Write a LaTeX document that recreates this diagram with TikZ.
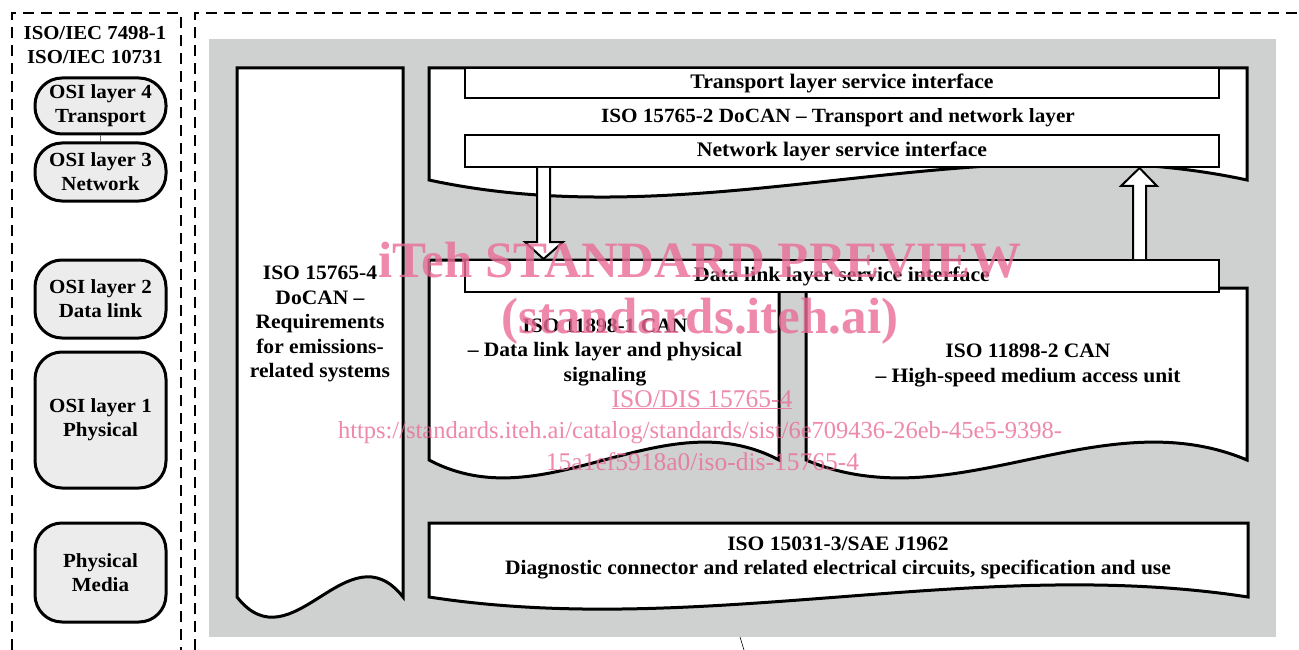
\documentclass[tikz,border=0pt]{standalone}
\usepackage{fontspec}
\setmainfont[FakeStretch=1.05]{Liberation Serif}
\newfontfamily\wmfont{Liberation Serif}
\usetikzlibrary{calc}
\definecolor{bggray}{RGB}{207,209,208}
\definecolor{boxgray}{RGB}{236,236,236}
\definecolor{wmpink}{RGB}{234,108,150}
\tikzset{
  dashframe/.style={line width=2.4pt, dash pattern=on 11pt off 7pt},
  docbox/.style={draw=black, fill=white, line width=3pt, line join=miter},
  iface/.style={draw=black, fill=white, line width=2pt, inner sep=0pt, minimum width=754pt,
    font=\bfseries\fontsize{20.7}{24}\selectfont},
  osibox/.style={draw=black, fill=boxgray, line width=3pt, rounded corners=27pt,
    minimum width=131pt, inner sep=0pt, align=center, font=\bfseries\fontsize{20}{24}\selectfont},
  lbl/.style={font=\bfseries\fontsize{20.5}{24.5}\selectfont, align=center, inner sep=0pt},
  blockarrow/.style={draw=black, fill=white, line width=2pt, line join=miter},
  wmbig/.style={text=wmpink, text opacity=0.8, inner sep=0pt, font=\wmfont\bfseries\fontsize{51}{56}\selectfont},
  wmsmall/.style={text=wmpink, text opacity=0.8, inner sep=0pt, font=\wmfont\fontsize{25.5}{30}\selectfont},
}
\begin{document}
\begin{tikzpicture}[x=1pt,y=-1pt]
\useasboundingbox (0,0) rectangle (1299,650);
% dashed frames
\draw[dashframe] (12,650) -- (12,13) -- (181,13) -- (181,650);
\draw[dashframe] (195,650) -- (195,13) -- (1299,13);
% grey panel
\fill[bggray] (209,39) rectangle (1276,637);
\draw[line width=0.6pt] (740,637) -- (744,650);

% left column
\node[lbl, font=\bfseries\fontsize{19.8}{23.5}\selectfont] (hdr) at (95,45) {ISO/IEC 7498-1\\ISO/IEC 10731};
\node[osibox, minimum height=56pt] (osi4) at (100.5,106) {OSI layer 4\\Transport};
\node[osibox, minimum height=58pt] (osi3) at (100.5,172) {OSI layer 3\\Network};
\draw[line width=0.8pt, black!60] (osi4.south) -- (osi3.north);
\node[osibox, minimum height=78pt] (osi2) at (100.5,299) {OSI layer 2\\Data link};
\node[osibox, minimum height=136pt] (osi1) at (100.5,420) {OSI layer 1\\Physical};
\node[osibox, minimum height=99pt] (media) at (100.5,572.5) {Physical\\Media};

% ISO 15765-4 tall document
\draw[docbox] (237,68) -- (403,68) -- (403,597) .. controls (348,527) and (292,667) .. (237,597) -- cycle;
\node[lbl] (req) at (320,324) {ISO 15765-4\\DoCAN --\\Requirements\\for emissions-\\related systems};

% ISO 15765-2 top document
\draw[docbox] (429,68) -- (1247,68) -- (1247,180) .. controls (974,121) and (702,239) .. (429,180) -- cycle;
\node[iface, minimum height=30pt] (tli) at (842,83) {Transport layer service interface};
\node[lbl, font=\bfseries\fontsize{20.2}{24.5}\selectfont] (tnl) at (838,118) {ISO 15765-2 DoCAN -- Transport and network layer};
\node[iface, minimum height=32pt] (nli) at (842,151) {Network layer service interface};

% ISO 11898-1 and 11898-2 documents
\draw[docbox] (429,260) -- (779,260) -- (779,460) .. controls (662,398) and (546,522) .. (429,460) -- cycle;
\draw[docbox] (806,288) -- (1247,288) -- (1247,460) .. controls (1100,398) and (953,522) .. (806,460) -- cycle;
\node[iface, minimum height=32pt] (dli) at (842,276) {Data link layer service interface};
\node[lbl] (can1) at (605,352) {ISO 11898-1 CAN\\-- Data link layer and physical\\signaling};
\node[lbl] (can2) at (1028,365.5) {ISO 11898-2 CAN\\-- High-speed medium access unit};

% block arrows
\coordinate (dsl) at (537,0);   \coordinate (dsr) at (550,0);
\coordinate (dhl) at (525,0);   \coordinate (dhr) at (563,0);
\coordinate (dax) at (543.5,0);
\coordinate (dhb) at ($(dli.north)+(0,-17)$);
\draw[blockarrow] (dsl |- nli.south) -- (dsl |- dhb) -- (dhl |- dhb) -- (dax |- dli.north)
  -- (dhr |- dhb) -- (dsr |- dhb) -- (dsr |- nli.south);
\coordinate (usl) at (1133,0);  \coordinate (usr) at (1146,0);
\coordinate (uhl) at (1121,0);  \coordinate (uhr) at (1157,0);
\coordinate (uax) at (1139.5,0);
\coordinate (uhb) at ($(nli.south)+(0,18)$);
\draw[blockarrow] (usl |- dli.north) -- (usl |- uhb) -- (uhl |- uhb) -- (uax |- nli.south)
  -- (uhr |- uhb) -- (usr |- uhb) -- (usr |- dli.north);

% ISO 15031-3 document
\draw[docbox] (429,523) -- (1248,523) -- (1248,597) .. controls (975,555) and (702,639) .. (429,597) -- cycle;
\node[lbl] (diag) at (838,558) {ISO 15031-3/SAE J1962\\Diagnostic connector and related electrical circuits, specification and use};

% watermark
\node[wmbig, anchor=base] (wm1) at (700,277) {iTeh STANDARD PREVIEW};
\node[wmbig, anchor=base] (wm2) at (700,333) {(standards.iteh.ai)};
\node[wmsmall, anchor=base] (wm3) at (702,407) {\underline{ISO/DIS 15765-4}};
\node[wmsmall, anchor=base, font=\wmfont\fontsize{24.5}{30}\selectfont] (wm4) at (700,438) {https://standards.iteh.ai/catalog/standards/sist/6e709436-26eb-45e5-9398-};
\node[wmsmall, anchor=base] (wm5) at (702.5,470) {15a1ef5918a0/iso-dis-15765-4};
\end{tikzpicture}
\end{document}
